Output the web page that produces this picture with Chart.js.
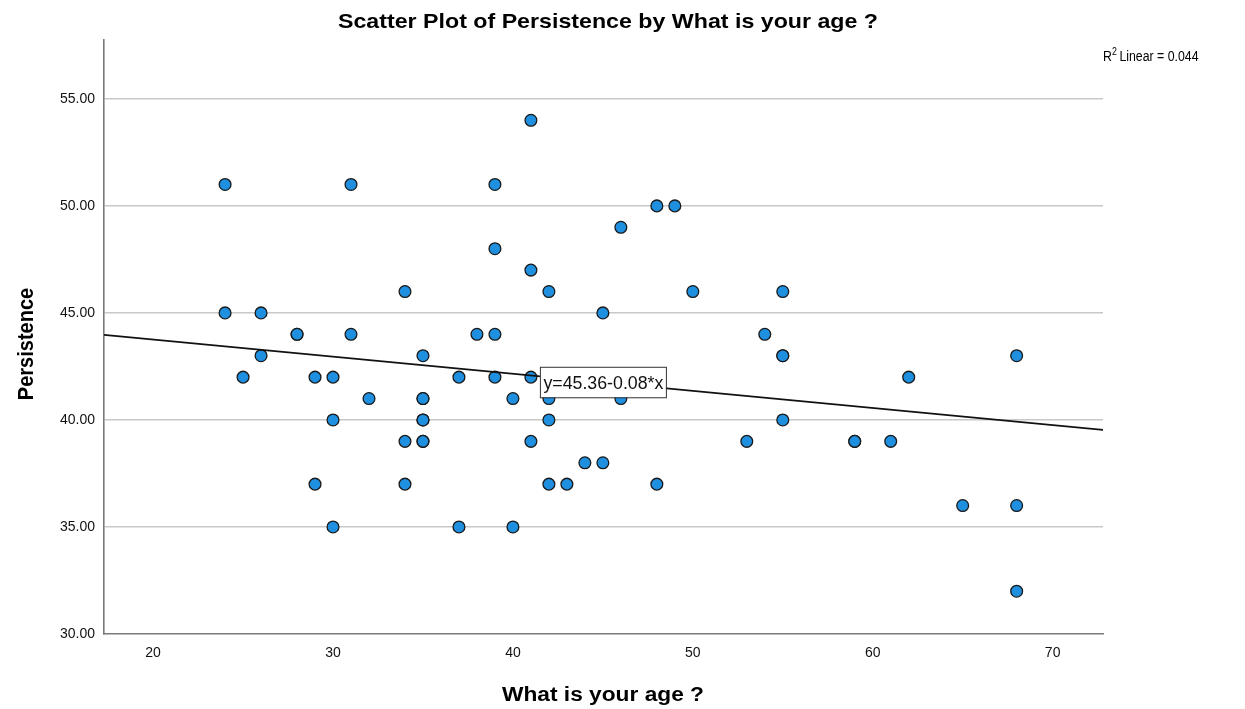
<!DOCTYPE html>
<html>
<head>
<meta charset="utf-8">
<title>Scatter Plot of Persistence by What is your age ?</title>
<script src="https://cdn.jsdelivr.net/npm/chart.js@4/dist/chart.umd.min.js"></script>
<style>
  html, body { margin: 0; padding: 0; background: #ffffff; }
  canvas { display: block; }
</style>
</head>
<body>
<canvas id="chart" width="1245" height="709"></canvas>
<script>
// Respondent age (x) and Persistence score (y), one entry per respondent
const ages = [
  24, 24, 25, 26, 26, 28, 28, 29, 29, 30, 30, 30, 31, 31, 32,
  34, 34, 34, 35, 35, 35, 35, 35, 35, 35, 37, 37, 38,
  39, 39, 39, 39, 40, 40, 41, 41, 41, 41, 42, 42, 42, 42,
  43, 44, 45, 45, 46, 46, 48, 48, 49, 50, 53, 54,
  55, 55, 55, 55, 59, 59, 61, 62, 65, 68, 68, 68
];
const persistence = [
  51, 45, 42, 45, 43, 44, 44, 42, 37, 42, 40, 35, 51, 44, 41,
  46, 39, 37, 43, 41, 41, 40, 40, 39, 39, 42, 35, 44,
  51, 48, 44, 42, 41, 35, 54, 47, 42, 39, 46, 41, 40, 37,
  37, 38, 45, 38, 49, 41, 50, 37, 50, 46, 39, 44,
  46, 43, 43, 40, 39, 39, 39, 42, 36, 43, 36, 32
];

// Axis ticks and ranges
const xTicks = [20, 30, 40, 50, 60, 70];
const yTicks = [30, 35, 40, 45, 50, 55];
const xRange = [17.27, 72.8];
const yRange = [30, 57.75];

// Linear fit as reported in the equation label
const fitIntercept = 45.36;
const fitSlope = -0.08;
const fitLabel = 'y=45.36-0.08*x';
const rSquaredText = '0.044';

const chartTitle = 'Scatter Plot of Persistence by What is your age ?';
const xTitle = 'What is your age ?';
const yTitle = 'Persistence';

const points = ages.map((a, i) => ({ x: a, y: persistence[i] }));
const fitY = x => fitIntercept + fitSlope * x;
const fitLine = xRange.map(x => ({ x: x, y: fitY(x) }));

// Draw stretched text so its width matches the target
function fitText(ctx, text, x, y, targetWidth, align) {
  const w = ctx.measureText(text).width;
  const s = targetWidth / w;
  ctx.save();
  ctx.translate(x, y);
  ctx.scale(s, 1);
  ctx.textAlign = align || 'center';
  ctx.fillText(text, 0, 0);
  ctx.restore();
}

const annotations = {
  id: 'annotations',
  afterDraw(chart) {
    const ctx = chart.ctx;
    const xs = chart.scales.x, ys = chart.scales.y;
    ctx.save();
    ctx.fillStyle = '#000';
    ctx.textBaseline = 'alphabetic';

    // Chart title
    ctx.font = 'bold 21px "Liberation Sans", Arial, sans-serif';
    fitText(ctx, chartTitle, 608, 28, 540, 'center');

    // X axis title
    ctx.font = 'bold 20px "Liberation Sans", Arial, sans-serif';
    fitText(ctx, xTitle, 603, 701, 202, 'center');

    // Y axis title (rotated)
    ctx.save();
    ctx.translate(33, 344);
    ctx.rotate(-Math.PI / 2);
    ctx.scale(1, 1.13);
    ctx.textAlign = 'center';
    ctx.fillText(yTitle, 0, 0);
    ctx.restore();

    // R-squared note, right of the plot
    const rx = chart.chartArea.right;
    ctx.font = '14px "Liberation Sans", Arial, sans-serif';
    ctx.save();
    ctx.translate(rx, 61);
    ctx.scale(0.88, 1);
    ctx.textAlign = 'left';
    ctx.fillText('R', 0, 0);
    let off = ctx.measureText('R').width;
    ctx.font = '10px "Liberation Sans", Arial, sans-serif';
    ctx.fillText('2', off, -6);
    off += ctx.measureText('2').width + 3;
    ctx.font = '14px "Liberation Sans", Arial, sans-serif';
    ctx.fillText('Linear = ' + rSquaredText, off, 0);
    ctx.restore();

    // Fit equation box anchored on the fit line
    const ax = 41.5;
    const bx = xs.getPixelForValue(ax);
    const by = ys.getPixelForValue(fitY(ax)) - 9.5;
    const bw = 126, bh = 30.5;
    ctx.fillStyle = '#fff';
    ctx.fillRect(bx, by, bw, bh);
    ctx.strokeStyle = '#333';
    ctx.lineWidth = 1;
    ctx.strokeRect(bx + 0.5, by + 0.5, bw, bh);
    ctx.fillStyle = '#111';
    ctx.font = '18px "Liberation Sans", Arial, sans-serif';
    fitText(ctx, fitLabel, bx + bw / 2 + 0.5, by + 22, 120, 'center');
    ctx.restore();
  }
};

new Chart(document.getElementById('chart'), {
  type: 'scatter',
  data: {
    datasets: [
      {
        type: 'line',
        label: 'Linear fit',
        data: fitLine,
        borderColor: '#111',
        borderWidth: 1.8,
        pointRadius: 0,
        fill: false,
        order: 0
      },
      {
        label: 'Persistence',
        data: points,
        backgroundColor: '#1f8fe0',
        borderColor: '#1a1a1a',
        borderWidth: 1.3,
        pointRadius: 5.9,
        pointHoverRadius: 5.9,
        order: 1
      }
    ]
  },
  options: {
    responsive: false,
    animation: false,
    devicePixelRatio: 1,
    layout: { padding: { top: 40, right: 142, bottom: 0, left: 0 } },
    plugins: {
      legend: { display: false },
      title: { display: false },
      tooltip: { enabled: false }
    },
    scales: {
      x: {
        type: 'linear',
        position: 'bottom',
        min: xRange[0],
        max: xRange[1],
        afterFit: s => { s.height = 75; },
        afterBuildTicks: s => { s.ticks = xTicks.map(v => ({ value: v })); },
        grid: { display: false, drawTicks: false },
        border: { display: true, color: '#7a7a7a', width: 1.6 },
        ticks: {
          font: { family: '"Liberation Sans", Arial, sans-serif', size: 14 },
          color: '#111',
          padding: 11,
          maxRotation: 0,
          autoSkip: false
        }
      },
      y: {
        type: 'linear',
        min: yRange[0],
        max: yRange[1],
        afterFit: s => { s.width = 104; },
        afterBuildTicks: s => { s.ticks = yTicks.map(v => ({ value: v })); },
        grid: {
          drawTicks: false,
          color: c => (c.tick && c.tick.value === yRange[0]) ? 'rgba(0,0,0,0)' : '#c8c8c8',
          lineWidth: 1.6
        },
        border: { display: true, color: '#7a7a7a', width: 1.6 },
        ticks: {
          font: { family: '"Liberation Sans", Arial, sans-serif', size: 14 },
          color: '#111',
          padding: 9,
          autoSkip: false,
          callback: v => Number(v).toFixed(2)
        }
      }
    }
  },
  plugins: [annotations]
});
</script>
</body>
</html>
